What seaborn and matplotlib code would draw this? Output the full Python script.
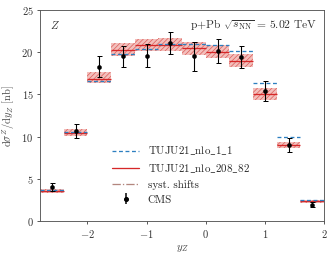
import numpy as np
import pandas as pd
import matplotlib
matplotlib.use("Agg")
import matplotlib.pyplot as plt
from matplotlib.lines import Line2D
import seaborn as sns

bin_lo = [-2.8, -2.4, -2.0, -1.6, -1.2, -0.8, -0.4, 0.0, 0.4, 0.8, 1.2, 1.6]
bin_hi = [-2.4, -2.0, -1.6, -1.2, -0.8, -0.4, 0.0, 0.4, 0.8, 1.2, 1.6, 2.0]
nlo_1_1 = [3.67, 10.6, 16.6, 19.8, 20.4, 21.0, 20.95, 20.9, 20.2, 16.4, 10.0, 2.5]
nlo_208_82 = [3.5, 10.4, 16.8, 20.3, 20.9, 20.85, 20.45, 20.0, 18.95, 15.0, 9.0, 2.33]
band_lo = [3.3, 10.1, 16.3, 19.6, 20.2, 20.1, 19.7, 19.3, 18.3, 14.3, 8.6, 2.15]
band_hi = [3.8, 10.9, 17.6, 21.1, 21.6, 21.7, 21.2, 20.8, 19.8, 15.7, 9.4, 2.5]
cms_y = [4.0, 10.65, 18.3, 19.5, 19.6, 21.05, 19.5, 20.15, 19.4, 15.4, 9.0, 1.9]
cms_err = [0.5, 0.85, 1.2, 1.25, 1.35, 1.3, 1.75, 1.4, 1.3, 1.15, 0.85, 0.3]

sns.set_style("ticks")
plt.rcParams["font.family"] = ["serif"]
plt.rcParams["font.serif"] = ["cmr10", "DejaVu Serif"]
plt.rcParams["mathtext.fontset"] = "cm"
plt.rcParams["axes.formatter.use_mathtext"] = True
plt.rcParams["hatch.color"] = "#c9443c"
plt.rcParams["hatch.linewidth"] = 0.7

lo = np.array(bin_lo); hi = np.array(bin_hi)
ctr = (lo + hi) / 2
df = pd.DataFrame({"y": ctr, "cms": cms_y})

fig, ax = plt.subplots(figsize=(333/72, 258/72), dpi=72)
fig.subplots_adjust(left=40/333, right=324/333, top=1-10/258, bottom=1-221/258)

ax.bar(ctr, np.array(band_hi) - np.array(band_lo), bottom=band_lo, width=hi - lo,
       color="#f2b8b5", edgecolor="#d9534f", hatch="/////", linewidth=0, alpha=0.9)
ax.hlines(nlo_208_82, lo, hi, colors="#d62728", linewidth=1.3)
ax.hlines(nlo_1_1, lo, hi, colors="#2c7fc0", linewidth=1.3, linestyles=(0, (3, 2)))
ax.errorbar(ctr, cms_y, yerr=cms_err, fmt="none", ecolor="black", capsize=2.5, elinewidth=1.1)
sns.scatterplot(data=df, x="y", y="cms", ax=ax, color="black", s=18, edgecolor="black", zorder=5)

ax.set_xlim(-2.8, 2.0)
ax.set_ylim(0, 25)
ax.set_xticks([-2, -1, 0, 1, 2])
ax.set_yticks([0, 5, 10, 15, 20, 25])
ax.tick_params(labelsize=10.5, length=3, width=0.8, colors="#333333")
for s in ax.spines.values():
    s.set_color("#555555")
    s.set_linewidth(0.9)
ax.set_xlabel(r"$y_Z$", fontsize=11, color="#444444")
ax.set_ylabel(r"$\mathrm{d}\sigma^Z/\mathrm{d}y_Z$ [nb]", fontsize=10.5, color="#444444")
ax.text(0.053, 0.93, r"$Z$", transform=ax.transAxes, fontsize=11, va="center", ha="center", color="#333333")
ax.text(0.975, 0.93, r"p+Pb $\sqrt{s_{\mathrm{NN}}}$ = 5.02 TeV", transform=ax.transAxes,
        fontsize=11.5, va="center", ha="right", color="#333333")

h1 = Line2D([], [], color="#2c7fc0", lw=1.3, ls=(0, (3, 2)))
h2 = Line2D([], [], color="#d62728", lw=1.3)
h3 = Line2D([], [], color="#a0685e", lw=1.3, ls="-.", alpha=0.8)
h4 = ax.errorbar([], [], yerr=[], fmt="o", color="black", ms=4, capsize=2.5)
ax.legend([h1, h2, h3, h4],
          [r"$\mathrm{TUJU21\_nlo\_1\_1}$", r"$\mathrm{TUJU21\_nlo\_208\_82}$", "syst. shifts", "CMS"],
          loc="lower left", bbox_to_anchor=(0.22, 0.03), frameon=False, fontsize=11,
          handlelength=2.4, labelspacing=0.45, handletextpad=0.8)

fig.savefig("out.png", dpi=72)
